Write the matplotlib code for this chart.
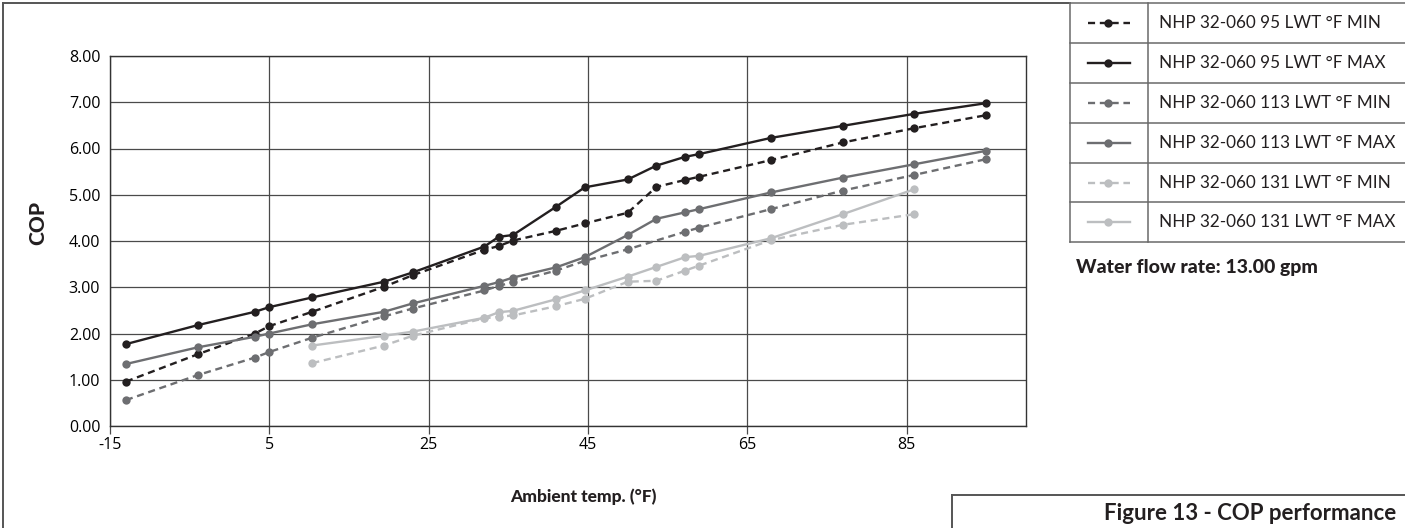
import matplotlib
matplotlib.use("Agg")
import matplotlib.pyplot as plt
from matplotlib.lines import Line2D

# ---------------- data ----------------
x_full = [-13, -4, 3.2, 5, 10.4, 19.4, 23, 32, 33.8, 35.6, 41, 44.6, 50, 53.6, 57.2, 59, 68, 77, 86, 95]
cop95_min = [0.96, 1.55, 2.00, 2.16, 2.47, 3.01, 3.26, 3.81, 3.89, 4.01, 4.22, 4.38, 4.61, 5.17, 5.32, 5.39, 5.75, 6.13, 6.44, 6.72]
cop95_max = [1.77, 2.18, 2.47, 2.57, 2.78, 3.12, 3.32, 3.88, 4.09, 4.13, 4.74, 5.16, 5.33, 5.63, 5.82, 5.88, 6.23, 6.49, 6.75, 6.98]
x113_min = [-13, -4, 3.2, 5, 10.4, 19.4, 23, 32, 33.8, 35.6, 41, 44.6, 50, 57.2, 59, 68, 77, 86, 95]
cop113_min = [0.56, 1.10, 1.48, 1.60, 1.91, 2.37, 2.54, 2.93, 3.03, 3.11, 3.36, 3.57, 3.82, 4.20, 4.29, 4.69, 5.09, 5.43, 5.77]
cop113_max = [1.34, 1.70, 1.93, 2.00, 2.20, 2.47, 2.65, 3.03, 3.11, 3.21, 3.43, 3.65, 4.13, 4.48, 4.62, 4.69, 5.05, 5.37, 5.66, 5.95]
x131 = [10.4, 19.4, 23, 32, 33.8, 35.6, 41, 44.6, 50, 53.6, 57.2, 59, 68, 77, 86]
cop131_min = [1.36, 1.74, 1.95, 2.33, 2.36, 2.39, 2.59, 2.75, 3.12, 3.14, 3.36, 3.47, 4.02, 4.35, 4.58]
cop131_max = [1.74, 1.95, 2.04, 2.34, 2.46, 2.49, 2.74, 2.93, 3.23, 3.44, 3.65, 3.68, 4.06, 4.58, 5.12]

labels = ["NHP 32-060 95 LWT °F MIN", "NHP 32-060 95 LWT °F MAX",
          "NHP 32-060 113 LWT °F MIN", "NHP 32-060 113 LWT °F MAX",
          "NHP 32-060 131 LWT °F MIN", "NHP 32-060 131 LWT °F MAX"]
x_ticks = [-15, 5, 25, 45, 65, 85]
y_ticks = [0, 1, 2, 3, 4, 5, 6, 7, 8]

BLACK, DGRAY, LGRAY = "#231f20", "#6d6e71", "#bcbec0"
DASH = (0, (3, 2))
series = [
    (x_full, cop95_min, BLACK, DASH),
    (x_full, cop95_max, BLACK, "-"),
    (x113_min, cop113_min, DGRAY, DASH),
    (x_full, cop113_max, DGRAY, "-"),
    (x131, cop131_min, LGRAY, DASH),
    (x131, cop131_max, LGRAY, "-"),
]

W, H = 1405, 528
fig = plt.figure(figsize=(W / 100, H / 100), dpi=100)
TICKFONT = "Open Sans"
LABFONT = "Lato"
MS = 6.0

ax = fig.add_axes([110 / W, 1 - 426 / H, (1026 - 110) / W, (426 - 56) / H])
for xs, ys, c, ls in series:
    ax.plot(xs, ys, color=c, linestyle=ls, linewidth=1.7, marker="o",
            markersize=MS, markeredgewidth=0, zorder=3)

ax.set_xlim(-15, 100)
ax.set_ylim(0, 8)
ax.set_xticks(x_ticks)
ax.set_xticklabels([str(v) for v in x_ticks], fontfamily=TICKFONT, fontsize=11.5)
ax.set_yticks(y_ticks)
ax.set_yticklabels([f"{v:.2f}" for v in y_ticks], fontfamily=TICKFONT, fontsize=11.5)
ax.grid(True, color="#4a4a4a", linewidth=0.9)
ax.set_axisbelow(True)
ax.tick_params(axis="x", length=6, width=0.9, color="#4a4a4a", pad=2, direction="out")
ax.tick_params(axis="y", length=0, pad=7)
for s in ax.spines.values():
    s.set_color("#333333")
    s.set_linewidth(1.0)

# ---------------- overlay in pixel coordinates ----------------
ov = fig.add_axes([0, 0, 1, 1], zorder=5)
ov.set_xlim(0, W)
ov.set_ylim(H, 0)
ov.axis("off")
ov.patch.set_alpha(0)

fc = "#555555"
ov.plot([3, 3], [3, H], color=fc, lw=1.4)
ov.plot([3, 1070], [3, 3], color=fc, lw=1.4)

# legend table
rows = [3, 43, 83, 123, 163, 202, 242]
tx0, tsep, tx1 = 1070, 1148, W
for r in rows:
    ov.plot([tx0, tx1], [r, r], color="#6a6a6a", lw=1.1)
ov.plot([tx0, tx0], [rows[0], rows[-1]], color="#6a6a6a", lw=1.1)
ov.plot([tsep, tsep], [rows[0], rows[-1]], color="#6a6a6a", lw=1.1)
for i, ((xs, ys, c, ls), lab) in enumerate(zip(series, labels)):
    yc = (rows[i] + rows[i + 1]) / 2
    ov.add_line(Line2D([1088, 1130], [yc, yc], color=c, linestyle=ls, lw=1.7))
    ov.add_line(Line2D([1108], [yc], color=c, marker="o", markersize=MS,
                       markeredgewidth=0))
    ov.text(1159, yc, lab, fontfamily=LABFONT, fontsize=12.3, color="#231f20",
            va="center", ha="left")

ov.text(1076, 268, "Water flow rate: 13.00 gpm", fontfamily=LABFONT,
        fontweight="black", fontsize=14, color="#231f20", va="center", ha="left")

# caption box
ov.plot([952, W], [495, 495], color=fc, lw=1.4)
ov.plot([952, 952], [495, H], color=fc, lw=1.4)
ov.text(1396, 513, "Figure 13 - COP performance", fontfamily=LABFONT,
        fontweight="bold", fontsize=16, color="#231f20", va="center", ha="right")

# axis titles
ov.text(38, 223, "COP", fontfamily=LABFONT, fontweight="black", fontsize=15,
        rotation=90, va="center", ha="center", color="#231f20")
ov.text(583, 497, "Ambient temp. (°F)", fontfamily=LABFONT, fontweight="black",
        fontsize=12.5, va="center", ha="center", color="#231f20")

fig.savefig("out.png", dpi=100, facecolor="white")
